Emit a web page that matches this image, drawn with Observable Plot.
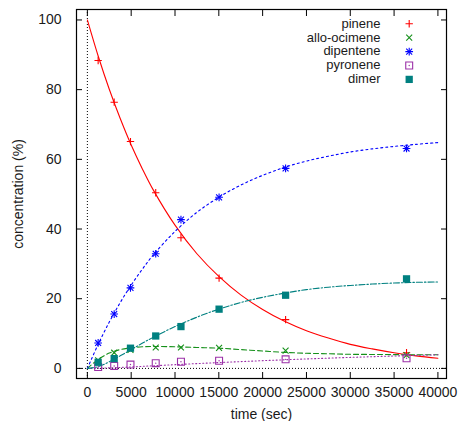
<!DOCTYPE html>
<html><head><meta charset="utf-8">
<script src="https://cdn.jsdelivr.net/npm/d3@7"></script>
<script src="https://cdn.jsdelivr.net/npm/@observablehq/plot@0.6"></script>
<style>
html,body{margin:0;padding:0;background:#fff;}
#chart svg{display:block;}
</style>
</head><body><div id="chart"></div>
<script>
// measured data (time in seconds, concentration in %)
const timeObs      = [1230, 3060, 4920, 7800, 10680, 15030, 22620, 36420];
const pineneObs    = [88.35, 76.4, 65.1, 50.4, 37.5, 25.9, 14.0, 4.5];
const alloObs      = [2.3, 4.5, 5.3, 6.0, 6.0, 5.9, 5.1, 3.8];
const dipenteneObs = [7.3, 15.6, 23.1, 32.9, 42.7, 49.1, 57.4, 63.1];
const pyroneneObs  = [0.4, 0.7, 1.1, 1.5, 1.9, 2.2, 2.6, 2.9];
const dimerObs     = [1.75, 2.8, 5.8, 9.3, 12.0, 17.0, 21.0, 25.7];

// fitted model curves
const timeFit      = [0, 1250, 2500, 3750, 5000, 6250, 7500, 10000, 12500, 15000, 17500, 20000, 22500, 25000, 27500, 30000, 32500, 35000, 37500, 40000];
const pineneFit    = [100, 89.5, 80.1, 71.7, 64.1, 57.4, 51.3, 41.1, 32.9, 26.4, 21.1, 16.9, 13.5, 10.8, 8.7, 6.9, 5.6, 4.5, 3.6, 2.9];
const alloFit      = [0, 2.6, 4.4, 5.4, 5.9, 6.2, 6.3, 6.2, 6.0, 5.8, 5.4, 5.0, 4.6, 4.35, 4.2, 4.05, 4.0, 3.95, 3.9, 3.9];
const dipenteneFit = [0, 7.0, 13.3, 18.9, 23.9, 28.4, 32.5, 39.3, 44.8, 49.1, 52.6, 55.4, 57.7, 59.5, 60.9, 62.1, 63.0, 63.7, 64.3, 64.8];
const pyroneneFit  = [0, 0.04, 0.15, 0.28, 0.42, 0.58, 0.75, 1.07, 1.38, 1.67, 1.95, 2.22, 2.47, 2.71, 2.94, 3.15, 3.36, 3.55, 3.74, 3.9];
const dimerFit     = [0, 0.5, 1.9, 3.6, 5.4, 7.2, 8.9, 12.0, 14.7, 17.0, 18.9, 20.4, 21.6, 22.6, 23.3, 23.8, 24.2, 24.5, 24.7, 24.8];

const seriesNames = ["pinene", "allo-ocimene", "dipentene", "pyronene", "dimer"];
const xTicks = [0, 5000, 10000, 15000, 20000, 25000, 30000, 35000, 40000];
const yTicks = [0, 20, 40, 60, 80, 100];

const colors = {pinene: "red", "allo-ocimene": "#15901a", dipentene: "#0000ff", pyronene: "#9b30a8", dimer: "#008080"};
const dashes = {pinene: null, "allo-ocimene": "5,3", dipentene: "2,3", pyronene: "1,2.5", dimer: "6,2,1.5,2"};

const obsBy = {pinene: pineneObs, "allo-ocimene": alloObs, dipentene: dipenteneObs, pyronene: pyroneneObs, dimer: dimerObs};
const fitBy = {pinene: pineneFit, "allo-ocimene": alloFit, dipentene: dipenteneFit, pyronene: pyroneneFit, dimer: dimerFit};

const obs = seriesNames.flatMap(s => timeObs.map((t, i) => ({series: s, t, c: obsBy[s][i]})));
const fit = seriesNames.flatMap(s => timeFit.map((t, i) => ({series: s, t, c: fitBy[s][i]})));
const obsOf = s => obs.filter(d => d.series === s);

// marker definitions: list of dot layers per series
function markerLayers(s) {
  const col = colors[s];
  switch (s) {
    case "pinene": return [{symbol: "plus", r: 2.5, stroke: col, fill: "none", strokeWidth: 1.1}];
    case "allo-ocimene": return [{symbol: "times", r: 2.8, stroke: col, fill: "none", strokeWidth: 1.1}];
    case "dipentene": return [
      {symbol: "plus", r: 2.6, stroke: col, fill: "none", strokeWidth: 1.1},
      {symbol: "times", r: 2.8, stroke: col, fill: "none", strokeWidth: 1.1}];
    case "pyronene": return [
      {symbol: "square", r: 3.9, stroke: col, fill: "none", strokeWidth: 1.1},
      {symbol: "circle", r: 0.7, fill: col, stroke: "none"}];
    case "dimer": return [{symbol: "square", r: 4.1, fill: col, stroke: "none"}];
  }
}

const marks = [];
// zero axes (dotted)
marks.push(Plot.ruleX([0], {stroke: "#000", strokeDasharray: "1,2", strokeWidth: 1}));
marks.push(Plot.ruleY([0], {stroke: "#000", strokeDasharray: "1,2", strokeWidth: 1}));

// fitted curves
for (const s of seriesNames) {
  marks.push(Plot.line(fit.filter(d => d.series === s), {
    x: "t", y: "c", stroke: colors[s], strokeWidth: 1.1,
    strokeDasharray: dashes[s], curve: "catmull-rom"
  }));
}
// data points
for (const s of seriesNames) {
  for (const m of markerLayers(s)) {
    marks.push(Plot.dot(obsOf(s), {x: "t", y: "c", ...m}));
  }
}
// legend (top-right, inside the frame)
seriesNames.forEach((s, i) => {
  marks.push(Plot.text([s], {text: d => d, frameAnchor: "top-right", dx: -66, dy: 14 + i * 13.9,
    textAnchor: "end", lineAnchor: "middle", fill: "#1a1a1a", fontSize: 13}));
  for (const m of markerLayers(s)) {
    marks.push(Plot.dot([s], {frameAnchor: "top-right", dx: -37.3, dy: 14.3 + i * 13.9, ...m}));
  }
});

// frame and axes
marks.push(Plot.frame({stroke: "#000", strokeWidth: 1.2}));
marks.push(Plot.axisX({anchor: "bottom", ticks: xTicks, tickSize: -6, tickPadding: 15,
  tickFormat: d => String(d), label: "time (sec)", labelAnchor: "center", labelArrow: "none", fill: "#1a1a1a"}));
marks.push(Plot.axisX({anchor: "top", ticks: xTicks, tickSize: -6, fill: "none", label: null}));
marks.push(Plot.axisY({anchor: "left", ticks: yTicks, tickSize: -6, tickPadding: 21,
  tickFormat: d => String(d), label: "concentration (%)", labelAnchor: "center", labelOffset: 63, labelArrow: "none", fill: "#1a1a1a"}));
marks.push(Plot.axisY({anchor: "right", ticks: yTicks, tickSize: -6, fill: "none", label: null}));

const chart = Plot.plot({
  width: 460,
  height: 421,
  marginLeft: 76,
  marginRight: 14,
  marginTop: 9,
  marginBottom: 43,
  x: {domain: [-1240, 40980]},
  y: {domain: [-2.9, 103]},
  style: {fontFamily: "'Liberation Sans', Arial, Helvetica, sans-serif", fontSize: "14px", background: "#fff", color: "#000"},
  marks
});
document.getElementById("chart").appendChild(chart);
</script>
</body></html>
